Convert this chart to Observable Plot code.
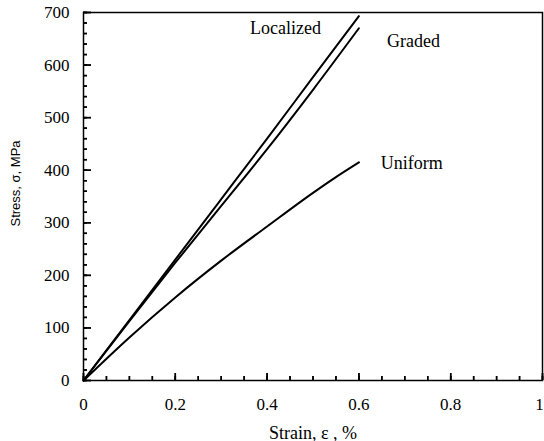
<!DOCTYPE html>
<html>
<head>
<meta charset="utf-8">
<script src="https://cdn.jsdelivr.net/npm/d3@7"></script>
<script src="https://cdn.jsdelivr.net/npm/@observablehq/plot@0.6"></script>
<style>
  html, body { margin: 0; padding: 0; background: #fff; }
  #chart svg { display: block; }
</style>
</head>
<body>
<div id="chart"></div>
<script>
const strain = [0, 0.1, 0.2, 0.3, 0.4, 0.5, 0.6];
const localized = [0, 115, 230, 345, 460, 577, 693];
const graded = [0, 113, 224, 332, 440, 553, 670];
const uniformStrain = [0, 0.1, 0.2, 0.3, 0.4, 0.5, 0.55, 0.6];
const uniform = [0, 82, 158, 228, 293, 357, 387, 415];

const labelNames = ["Localized", "Graded", "Uniform"];
const labelX = [0.44, 0.719, 0.715];
const labelY = [671, 645, 413];

const xMajor = [0, 0.2, 0.4, 0.6, 0.8];
const xLast = [1];
const xMinor = d3.range(0, 1.0001, 0.05);
const yMajor = [0, 100, 200, 300, 400, 500, 600, 700];
const yMinor = d3.range(0, 701, 20);

const series = [
  ...strain.map((x, i) => ({ s: "Localized", x, y: localized[i] })),
  ...strain.map((x, i) => ({ s: "Graded", x, y: graded[i] })),
  ...uniformStrain.map((x, i) => ({ s: "Uniform", x, y: uniform[i] }))
];
const labels = labelNames.map((t, i) => ({ t, x: labelX[i], y: labelY[i] }));

const fmtX = d => d === 0 ? "0" : d === 1 ? "1" : d3.format(".1f")(d);

const W = 544, H = 441, ML = 83, MR = 2, MT = 12, MB = 61;
const frameW = W - ML - MR, frameH = H - MT - MB;

const chart = Plot.plot({
  width: W,
  height: H,
  marginLeft: ML,
  marginRight: MR,
  marginTop: MT,
  marginBottom: MB,
  style: { fontFamily: "Liberation Serif", fontSize: "17px", color: "#000", background: "#fff" },
  x: { domain: [0, 1] },
  y: { domain: [0, 700] },
  marks: [
    // inward ticks
    Plot.tickX(xMinor, { x: d => d, insetTop: frameH - 4, stroke: "#000", strokeWidth: 1.5 }),
    Plot.tickX([...xMajor, ...xLast], { x: d => d, insetTop: frameH - 7, stroke: "#000", strokeWidth: 1.5 }),
    Plot.tickY(yMinor, { y: d => d, insetRight: frameW - 4, stroke: "#000", strokeWidth: 1.5 }),
    Plot.tickY(yMajor, { y: d => d, insetRight: frameW - 8, stroke: "#000", strokeWidth: 1.5 }),
    Plot.axisX(xMinor, { tickSize: 4, dy: -4, text: null, label: null, strokeWidth: 1.5 }),
    Plot.axisX([...xMajor, ...xLast], { tickSize: 7, dy: -7, text: null, label: null, strokeWidth: 1.5 }),
    Plot.axisY(yMinor, { tickSize: 4, dx: 4, text: null, label: null, strokeWidth: 1.5 }),
    Plot.axisY(yMajor, { tickSize: 8, dx: 8, text: null, label: null, strokeWidth: 1.5 }),
    // tick labels
    Plot.axisX(xMajor, { tickSize: 0, tickPadding: 17, tickFormat: fmtX, label: null, fontSize: 17 }),
    Plot.axisX(xLast, { tickSize: 0, tickPadding: 17, tickFormat: fmtX, label: null, fontSize: 17, dx: -3 }),
    Plot.axisY(yMajor, { tickSize: 0, tickPadding: 14, label: null, fontSize: 17 }),
    Plot.text(["Strain, ε , %"], { frameAnchor: "bottom", textAnchor: "middle", lineAnchor: "bottom", dy: 58, fontSize: 18 }),
    Plot.text(["Stress, σ, MPa"], { frameAnchor: "left", textAnchor: "middle", dx: -68, dy: -13, rotate: -90, fontSize: 13, fontFamily: "Liberation Sans" }),
    Plot.frame({ stroke: "#000", strokeWidth: 1.5 }),
    Plot.line(series, { x: "x", y: "y", z: "s", stroke: "#000", strokeWidth: 2, curve: "monotone-x" }),
    Plot.text(labels, { x: "x", y: "y", text: "t", fontSize: 18 })
  ]
});
document.getElementById("chart").appendChild(chart);
</script>
</body>
</html>
